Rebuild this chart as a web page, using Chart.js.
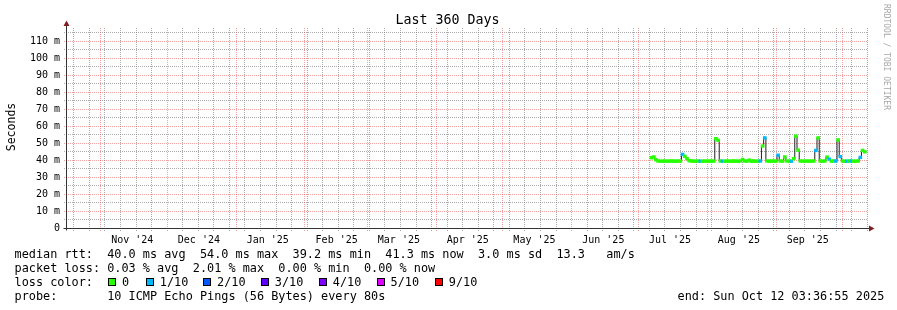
<!DOCTYPE html>
<html><head><meta charset="utf-8">
<script src="https://cdn.jsdelivr.net/npm/chart.js@4/dist/chart.umd.min.js"></script>
<style>
html,body{margin:0;padding:0;background:#fff;overflow:hidden}
#wrap{position:relative;width:897px;height:310px;background:#fff}
canvas{position:absolute;left:0;top:0}
.t{position:absolute;font-family:'DejaVu Sans Mono',monospace;font-size:11.85px;line-height:14px;white-space:pre;color:#000}
.b{position:absolute;width:8px;height:8px;box-sizing:border-box;border:1px solid #000}
</style></head><body>
<div id="wrap">
<canvas id="c" width="897" height="310"></canvas>
<div class="t" style="left:14.5px;top:247.2px">median rtt:  40.0 ms avg  54.0 ms max  39.2 ms min  41.3 ms now  3.0 ms sd  13.3   am/s</div>
<div class="t" style="left:14.5px;top:261.2px">packet loss: 0.03 % avg  2.01 % max  0.00 % min  0.00 % now</div>
<div class="t" style="left:14.5px;top:275.4px">loss color:</div>
<div id="lossLegend"></div>
<div class="t" style="left:14.5px;top:288.9px">probe:       10 ICMP Echo Pings (56 Bytes) every 80s</div>
<div class="t" style="left:677.5px;top:288.9px">end: Sun Oct 12 03:36:55 2025</div>
</div>
<script>
// ---------------- data ----------------
const chartTitle = 'Last 360 Days';
const yAxisTitle = 'Seconds';
const watermark = 'RRDTOOL / TOBI OETIKER';

// day index counted from the start of the 360-day window (Oct 17 2024 03:36:55)
const dayIndex = [263,264,265,266,267,268,269,270,271,272,273,274,275,276,277,278,279,280,281,282,
  283,284,285,286,287,288,289,290,291,292,293,294,295,296,297,298,299,300,301,302,
  303,304,305,306,307,308,309,310,311,312,313,314,315,316,317,318,319,320,321,322,
  323,324,325,326,327,328,329,330,331,332,333,334,335,336,337,338,339,340,341,342,
  343,344,345,346,347,348,349,350,351,352,353,354,355,356,357,358,359];

// median round trip time, ms
const medianRtt = [41.3,41.8,40.2,39.4,39.3,39.3,39.4,39.3,39.3,39.4,39.3,39.3,39.4,39.3,43.3,42.2,40.8,39.6,39.4,39.3,
  39.3,39.4,39.3,39.3,39.4,39.3,39.3,39.4,39.3,52.5,51.6,39.4,39.3,39.3,39.4,39.3,39.3,39.4,39.3,39.3,
  39.4,40.3,39.4,39.3,39.9,39.3,39.4,39.3,39.3,39.4,48.2,53.0,39.4,39.3,39.3,39.4,39.3,42.8,39.4,39.3,
  41.8,39.4,39.3,39.3,40.8,54.0,45.8,39.4,39.3,39.3,39.4,39.3,39.3,39.4,45.6,53.0,39.4,39.3,39.4,41.7,
  40.5,39.3,39.4,39.4,51.8,42.0,39.4,39.3,39.3,39.4,39.4,39.3,39.3,39.4,41.5,45.6,44.8];

// packet loss level (index into lossColors)
const lossLevel = [0,0,0,0,0,0,0,0,0,0,0,0,0,0,1,0,0,0,0,0,
  0,0,1,0,0,0,0,0,0,0,0,0,1,0,0,0,0,0,0,0,
  0,0,0,0,0,0,0,0,0,1,0,1,0,0,0,0,0,1,0,0,
  0,0,0,1,0,0,0,0,0,0,0,0,0,0,1,0,0,0,0,0,
  1,0,0,1,0,1,0,0,1,0,1,0,0,0,1,0,0];

const lossLabels = ['0','1/10','2/10','3/10','4/10','5/10','9/10'];
const lossColors = ['#26ff00','#00b8ff','#0059ff','#5e00ff','#7e00ff','#dd00ff','#ff0000'];

const monthLabels = ["Nov '24","Dec '24","Jan '25","Feb '25","Mar '25","Apr '25","May '25","Jun '25","Jul '25","Aug '25","Sep '25"];
const yTickValues = [0,10,20,30,40,50,60,70,80,90,100,110];
const yTickLabels = ['0','10 m','20 m','30 m','40 m','50 m','60 m','70 m','80 m','90 m','100 m','110 m'];

// ---------------- layout / style ----------------
const Y_MAX = 117.6, BAND = 0.8;
const MINOR = 'rgba(120,120,120,0.62)';
const MAJOR = 'rgba(230,70,70,0.5)';
const AXIS = '#333';
const ARROW = '#801f1f';
const MONO = "'DejaVu Sans Mono'";
const CLEAR = 'rgba(0,0,0,0)';

const legendBoxX = [108.3,146,203.3,261,319,376.7,435];
const lossLegend = document.getElementById('lossLegend');
lossLabels.forEach((lab,i)=>{
  const b=document.createElement('div'); b.className='b';
  b.style.left=legendBoxX[i]+'px'; b.style.top='278.4px'; b.style.background=lossColors[i];
  lossLegend.appendChild(b);
  const t=document.createElement('div'); t.className='t';
  t.style.left=(legendBoxX[i]+13.8)+'px'; t.style.top='275.4px'; t.textContent=lab;
  lossLegend.appendChild(t);
});

// time helpers
const rangeStart = Date.UTC(2024,9,17,3,36,55);
const dayOf = (y,m,d,h)=> (Date.UTC(y,m,d,h||0) - rangeStart)/86400000;

const monthStarts = [];
for (let k=0;k<12;k++){ const y=2024+Math.floor((10+k)/12), m=(10+k)%12; monthStarts.push(dayOf(y,m,1)); }
const weekStarts = [];
for (let d=dayOf(2024,9,20); d<360; d+=7){
  if (!monthStarts.some(v=>Math.abs(v-d)<0.2)) weekStarts.push(d);
}
const labelTicks = monthLabels.map((lab,k)=>{ const y=2024+Math.floor((10+k)/12), m=(10+k)%12;
  return {value:dayOf(y,m,15,12), label:lab}; });

const yMinor = [], yMajor = [];
for (let v=5; v<=115; v+=5) (v%10===0 ? yMajor : yMinor).push(v);

const gridPlugin = {
  id:'rrdGrid',
  beforeDatasetsDraw(chart){
    const {ctx, chartArea:a} = chart;
    const xs = chart.scales.x, ys = chart.scales.y;
    ctx.save();
    ctx.lineWidth = 1;
    ctx.setLineDash([1,1]);
    const vline = (v,c)=>{ const p=Math.round(xs.getPixelForValue(v))+0.5;
      ctx.strokeStyle=c; ctx.beginPath(); ctx.moveTo(p, a.bottom+3); ctx.lineTo(p, a.top); ctx.stroke(); };
    const hline = (v,c)=>{ const p=Math.round(ys.getPixelForValue(v))+0.5;
      ctx.strokeStyle=c; ctx.beginPath(); ctx.moveTo(a.left-3, p); ctx.lineTo(a.right, p); ctx.stroke(); };
    weekStarts.forEach(v=>vline(v, MINOR));
    yMinor.forEach(v=>hline(v, MINOR));
    monthStarts.forEach(v=>vline(v, MAJOR));
    yMajor.forEach(v=>hline(v, MAJOR));
    ctx.restore();
  }
};

const decor = {
  id:'decor',
  afterDraw(chart){
    const {ctx, chartArea:a} = chart;
    const xs = chart.scales.x, ys = chart.scales.y;
    const y0 = Math.round(ys.getPixelForValue(0)) + 0.5;
    const x0 = Math.round(xs.getPixelForValue(0)) - 0.5;
    ctx.save();
    ctx.strokeStyle = AXIS; ctx.lineWidth = 1;
    ctx.beginPath();
    ctx.moveTo(x0-3, y0); ctx.lineTo(a.right+3, y0);
    ctx.moveTo(x0, y0+2); ctx.lineTo(x0, a.top-3);
    ctx.stroke();
    ctx.fillStyle = ARROW;
    ctx.beginPath(); ctx.moveTo(x0-3, a.top-2); ctx.lineTo(x0+3, a.top-2); ctx.lineTo(x0, a.top-7.5); ctx.closePath(); ctx.fill();
    ctx.beginPath(); ctx.moveTo(a.right+2, y0-3); ctx.lineTo(a.right+2, y0+3); ctx.lineTo(a.right+7.5, y0); ctx.closePath(); ctx.fill();
    ctx.fillStyle = '#000';
    ctx.font = '13.3px ' + MONO; ctx.textAlign = 'center'; ctx.textBaseline = 'alphabetic';
    ctx.fillText(chartTitle, 447.5, 24);
    ctx.save(); ctx.translate(15, 127); ctx.rotate(-Math.PI/2);
    ctx.font = '11.5px ' + MONO; ctx.fillText(yAxisTitle, 0, 0); ctx.restore();
    ctx.save(); ctx.translate(884, 4); ctx.rotate(Math.PI/2);
    ctx.font = '8px ' + MONO; ctx.fillStyle = '#a8a8a8'; ctx.textAlign = 'left';
    ctx.fillText(watermark, 0, 0); ctx.restore();
    ctx.restore();
  }
};

new Chart(document.getElementById('c'), {
  type:'line',
  data:{
    datasets:[
      { type:'bar', order:1, grouped:false,
        data: dayIndex.map((d,i)=>({x:d, y:[medianRtt[i]-BAND, medianRtt[i]+BAND]})),
        backgroundColor: lossLevel.map(l=>lossColors[l]), borderWidth:0, barThickness:3 },
      { type:'line', order:2,
        data: dayIndex.map((d,i)=>({x:d, y:medianRtt[i]})),
        borderColor:'#202020', borderWidth:1, stepped:'middle', pointRadius:0, fill:false }
    ]
  },
  options:{
    responsive:false, animation:false, devicePixelRatio:1,
    layout:{padding:{top:28,right:30,left:0,bottom:0}},
    plugins:{legend:{display:false}, tooltip:{enabled:false}, title:{display:false}},
    scales:{
      x:{ type:'linear', min:0, max:360, offset:false,
        afterBuildTicks: s=>{ s.ticks = labelTicks.map(t=>({value:t.value})); },
        afterFit: s=>{ s.height = 82; },
        grid:{ offset:false, lineWidth:1, drawTicks:true, tickLength:3, color:CLEAR, tickColor:CLEAR },
        border:{ display:false },
        ticks:{ autoSkip:false, maxRotation:0, minRotation:0, padding:3, color:'#000',
          font:{family:'DejaVu Sans Mono', size:10},
          callback:(v,i)=> labelTicks[i] ? labelTicks[i].label : '' } },
      y:{ type:'linear', min:0, max:Y_MAX,
        afterBuildTicks: s=>{ s.ticks = yTickValues.map(v=>({value:v})); },
        afterFit: s=>{ s.width = 67; },
        grid:{ lineWidth:1, drawTicks:true, tickLength:3, color:CLEAR, tickColor:CLEAR },
        border:{ display:false },
        ticks:{ padding:4, color:'#000', font:{family:'DejaVu Sans Mono', size:10},
          callback:(v,i)=> yTickLabels[i] !== undefined ? yTickLabels[i] : '' } }
    }
  },
  plugins:[gridPlugin, decor]
});
</script>
</body></html>
